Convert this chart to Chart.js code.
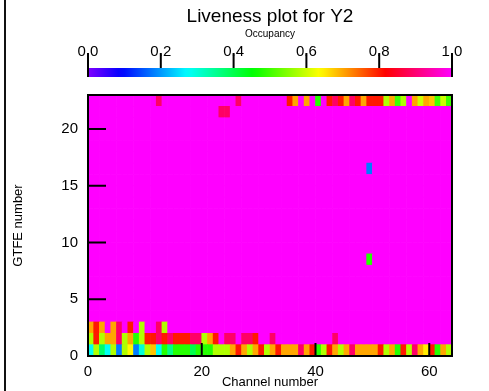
<!DOCTYPE html>
<html>
<head>
<meta charset="utf-8">
<title>Liveness plot for Y2</title>
<script src="https://cdn.jsdelivr.net/npm/chart.js@4.4.1/dist/chart.umd.min.js"></script>
<style>
  body { margin: 0; background: #fff; }
  #wrap { position: relative; width: 489px; height: 391px; }
  #edge { position: absolute; left: 4px; top: 0; width: 2px; height: 391px; background: #111; }
</style>
</head>
<body>
<div id="wrap">
  <canvas id="liveness" width="489" height="391"></canvas>
  <div id="edge"></div>
</div>
<script>
// axis extents
const nChannels = 64;
const nGtfe = 23;
const fullOcc = 1.0;

// occupancy per channel for the rows that are not fully live
const occRow0 = [
  0.28, 0.58, 0.38, 0.28, 0.58, 0.18, 0.58, 0.64, 0.18, 0.30,
  0.58, 0.68, 0.28, 0.48, 0.36, 0.48, 0.48, 0.48, 0.40, 0.48,
  0.48, 0.48, 0.58, 0.58, 0.58, 0.70, 0.80, 0.70, 0.58, 0.70,
  0.80, 0.58, 0.70, 0.80, 0.70, 0.70, 0.70, 0.89, 0.70, 0.80,
  0.48, 0.58, 0.80, 0.70, 0.58, 0.70, 0.89, 0.70, 0.70, 0.70,
  0.70, 0.80, 0.58, 0.70, 0.48, 0.80, 0.58, 0.89, 0.70, 0.65,
  0.80, 0.48, 0.70, 0.58
];
const occRow1 = [
  0.58, 0.80, 0.58, 0.70, 0.70, 0.89, 0.58, 0.70, 0.48, 0.58,
  0.80, 0.80, 0.89, 0.80, 0.89, 0.80, 0.80, 0.80, 0.89, 0.89,
  0.58, 0.70, 0.80, 1.00, 0.89, 0.89, 1.00, 0.89, 0.89, 0.80,
  1.00, 1.00, 0.89, 1.00, 1.00, 1.00, 1.00, 1.00, 1.00, 1.00,
  1.00, 1.00, 1.00, 0.89, 1.00, 1.00, 1.00, 1.00, 1.00, 1.00,
  1.00, 1.00, 1.00, 1.00, 1.00, 1.00, 1.00, 1.00, 1.00, 1.00,
  1.00, 1.00, 1.00, 1.00
];
const occRow2 = [
  0.70, 0.80, 0.70, 1.00, 0.70, 0.89, 1.00, 0.80, 1.00, 0.58,
  1.00, 1.00, 0.89, 0.58, 1.00, 1.00, 1.00, 1.00, 1.00, 1.00,
  1.00, 1.00, 1.00, 1.00, 1.00, 1.00, 1.00, 1.00, 1.00, 1.00,
  1.00, 1.00, 1.00, 1.00, 1.00, 1.00, 1.00, 1.00, 1.00, 1.00,
  1.00, 1.00, 1.00, 1.00, 1.00, 1.00, 1.00, 1.00, 1.00, 1.00,
  1.00, 1.00, 1.00, 1.00, 1.00, 1.00, 1.00, 1.00, 1.00, 1.00,
  1.00, 1.00, 1.00, 1.00
];
const occRow22 = [
  1.00, 1.00, 1.00, 1.00, 1.00, 1.00, 1.00, 1.00, 1.00, 1.00,
  1.00, 1.00, 0.89, 1.00, 1.00, 1.00, 1.00, 1.00, 1.00, 1.00,
  1.00, 1.00, 1.00, 1.00, 1.00, 1.00, 0.89, 1.00, 1.00, 1.00,
  1.00, 1.00, 1.00, 1.00, 1.00, 0.80, 0.70, 1.00, 0.70, 1.00,
  0.48, 1.00, 0.80, 0.89, 0.80, 0.70, 0.89, 0.80, 0.70, 0.80,
  0.80, 0.80, 0.58, 0.70, 0.50, 0.58, 1.00, 0.70, 0.60, 0.70,
  0.68, 0.50, 0.60, 0.50
];
// isolated cells elsewhere: [channel, gtfe, occupancy]
const lowCells = [[23, 21, 0.89], [24, 21, 0.89], [49, 16, 0.18], [49, 8, 0.48]];

// tick labels
const channelTicks = [0, 20, 40, 60];
const gtfeTicks = [0, 5, 10, 15, 20];
const occTicks = [0.0, 0.2, 0.4, 0.6, 0.8, 1.0];

const measuredRows = [[0, occRow0], [1, occRow1], [2, occRow2], [22, occRow22]];

// violet -> blue -> cyan -> green -> yellow -> red -> magenta
function occColor(v) {
  let h = 270 - 330 * v;
  if (h < 0) h += 360;
  return 'hsl(' + h.toFixed(1) + ', 100%, 50%)';
}

function buildGrid() {
  const grid = [];
  for (let g = 0; g < nGtfe; g++) grid.push(new Array(nChannels).fill(fullOcc));
  measuredRows.forEach(([g, vals]) => { grid[g] = vals.slice(); });
  lowCells.forEach(([ch, g, v]) => { grid[g][ch] = v; });
  return grid;
}

const grid = buildGrid();
const datasets = grid.map((vals, g) => ({
  label: 'GTFE ' + g,
  data: vals.map((v, ch) => ({ x: ch + 0.5, y: [g, g + 1] })),
  backgroundColor: vals.map(occColor),
  borderWidth: 0,
  barPercentage: 1,
  categoryPercentage: 1,
  grouped: false
}));

const TOP = 95;       // top of plot area
const TITLE_H = 27.8; // title block height

// colour bar + plot frame with inward ticks
const framePlugin = {
  id: 'frame',
  afterDatasetsDraw(chart) {
    const { ctx, chartArea: a, scales } = chart;
    ctx.save();
    ctx.strokeStyle = '#000';
    ctx.lineWidth = 2;
    ctx.beginPath();
    channelTicks.forEach(t => {
      if (t === 0) return;
      const px = scales.x.getPixelForValue(t);
      ctx.moveTo(px, a.bottom);
      ctx.lineTo(px, a.bottom - 13);
    });
    gtfeTicks.forEach(t => {
      if (t === 0) return;
      const py = scales.y.getPixelForValue(t);
      ctx.moveTo(a.left, py);
      ctx.lineTo(a.left + 18, py);
    });
    ctx.stroke();
    ctx.strokeRect(a.left, a.top, a.right - a.left, a.bottom - a.top);
    ctx.restore();
  },
  afterDraw(chart) {
    const { ctx, chartArea: a } = chart;
    const cb = chart.scales.cb;
    const x0 = cb.getPixelForValue(0), x1 = cb.getPixelForValue(1);
    const barTop = a.top - 27, barH = 9;
    const grad = ctx.createLinearGradient(x0, 0, x1, 0);
    for (let i = 0; i <= 60; i++) grad.addColorStop(i / 60, occColor(i / 60));
    ctx.save();
    ctx.fillStyle = grad;
    ctx.fillRect(x0, barTop, x1 - x0, barH);
    ctx.strokeStyle = '#000';
    ctx.lineWidth = 2;
    ctx.beginPath();
    occTicks.forEach((t, i) => {
      const px = cb.getPixelForValue(t);
      const end = (i === 0 || i === occTicks.length - 1) ? barTop + barH : barTop;
      ctx.moveTo(px, barTop - 15);
      ctx.lineTo(px, end);
    });
    ctx.stroke();
    ctx.restore();
  }
};

Chart.defaults.font.family = '"Liberation Sans", Arial, sans-serif';
Chart.defaults.color = '#000';

new Chart(document.getElementById('liveness'), {
  type: 'bar',
  data: { datasets: datasets },
  options: {
    responsive: false,
    animation: false,
    layout: { padding: { top: 0, right: 37, bottom: 0, left: 0 } },
    plugins: {
      legend: { display: false },
      tooltip: { enabled: false },
      title: {
        display: true,
        fullSize: false,
        text: 'Liveness plot for Y2',
        font: { size: 19, weight: 'normal' },
        padding: { top: 5, bottom: 0 }
      }
    },
    scales: {
      x: {
        type: 'linear', position: 'bottom', min: 0, max: nChannels, offset: false,
        grid: { display: false, drawTicks: true, tickLength: 7, offset: false },
        border: { display: false },
        afterBuildTicks: s => { s.ticks = channelTicks.map(v => ({ value: v })); },
        ticks: { padding: 0, font: { size: 15 }, maxRotation: 0, autoSkip: false },
        title: { display: true, text: 'Channel number', font: { size: 13 }, padding: { top: 0, bottom: 1 } },
        afterFit: s => { s.height = 35; }
      },
      y: {
        type: 'linear', min: 0, max: nGtfe,
        grid: { display: false, drawTicks: false },
        border: { display: false },
        afterBuildTicks: s => { s.ticks = gtfeTicks.map(v => ({ value: v })); },
        ticks: { padding: 10, font: { size: 15 } },
        title: { display: true, text: 'GTFE number', font: { size: 13 }, padding: { top: 11, bottom: 0 } },
        afterFit: s => { s.width = 88; }
      },
      cb: {
        type: 'linear', axis: 'x', position: 'top', min: 0, max: 1, offset: false,
        grid: { display: false, drawTicks: true, tickLength: 34, offset: false },
        border: { display: false },
        afterBuildTicks: s => { s.ticks = occTicks.map(v => ({ value: v })); },
        ticks: { padding: 0, font: { size: 15 }, maxRotation: 0, autoSkip: false, callback: v => v.toFixed(1) },
        title: { display: true, text: 'Occupancy', font: { size: 10 }, padding: { top: 0, bottom: 0 } },
        afterFit: s => { s.height = TOP - TITLE_H; }
      }
    }
  },
  plugins: [framePlugin]
});
</script>
</body>
</html>
